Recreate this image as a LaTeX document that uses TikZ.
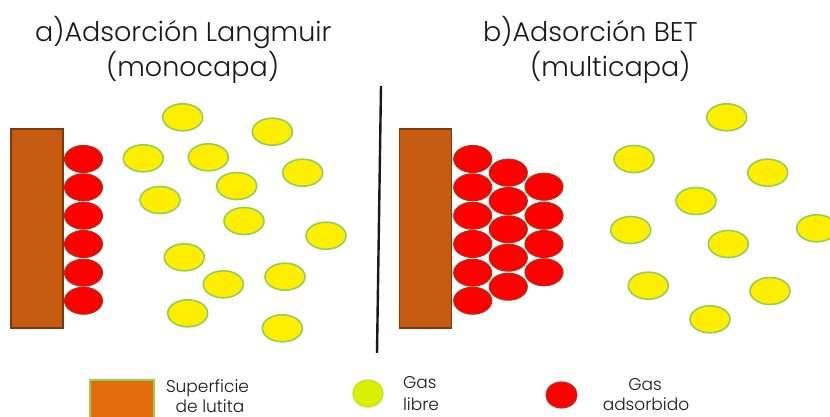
\documentclass[tikz,border=0pt]{standalone}
\usepackage{fontspec}
\setmainfont{Poppins}[UprightFont=* Light]
\usetikzlibrary{positioning,shapes.geometric}

\definecolor{lutita}{HTML}{C55A11}
\definecolor{lutitaborde}{HTML}{7A3A0E}
\definecolor{lutitaley}{HTML}{E46C0A}
\definecolor{verde}{HTML}{92D050}
\definecolor{amarillo}{HTML}{FFEE00}
\definecolor{rojo}{HTML}{FF0000}
\definecolor{rojoborde}{HTML}{B0301A}

\begin{document}
\begin{tikzpicture}[x=1pt,y=-1pt]
    \tikzstyle{every node}=[inner sep=0,outer sep=0]
    \tikzstyle{titulo}=[anchor=base west,font=\fontsize{27}{32}\selectfont,text=black!90]
    \tikzstyle{leyenda}=[font=\fontsize{17}{20}\selectfont,text=black!90]
    \tikzstyle{superficie}=[fill=lutita,draw=lutitaborde,line width=1.2]
    \tikzstyle{libre}=[ellipse,fill=amarillo,draw=verde,line width=1.6,minimum width=40,minimum height=27]
    \tikzstyle{adsorbido}=[ellipse,fill=rojo,draw=rojoborde,line width=1.1,minimum width=38,minimum height=27]
    \clip (0,0) rectangle (830,417);
    \fill[white] (0,0) rectangle (830,417);

    % titulos
    \node[titulo] (ta) at (35,42) {a)Adsorción Langmuir};
    \node[titulo] (tam) at (106,77) {(monocapa)};
    \node[titulo] (tb) at (483,42) {b)Adsorción BET};
    \node[titulo] (tbm) at (530,77) {(multicapa)};

    % separador
    \coordinate (sepa) at (381,86);
    \coordinate (sepb) at (377,353);
    \draw[line width=2.4,black!90] (sepa) -- (sepb);

    % a) monocapa
    \draw[superficie] (11,129) rectangle (63,328);
    \foreach \i/\y in {1/159,2/187.3,3/215.7,4/244,5/272.7,6/300.7}
        \node[adsorbido] (ra\i) at (83.5,\y) {};
    \foreach \i/\x/\y in {1/182.7/117.3,2/272.3/131.7,3/143.3/158.3,4/208.3/157.3,
                          5/302.7/172.7,6/236.7/186,7/160/200,8/244/221,
                          9/326/235.7,10/184.3/257.3,11/285/276.7,12/223.3/284.3,
                          13/187.7/313.3,14/282.3/328.3}
        \node[libre] (la\i) at (\x,\y) {};

    % b) multicapa
    \draw[superficie] (399.5,129) rectangle (451.5,328);
    \foreach \i/\y in {1/159,2/187.3,3/215.7,4/244,5/272.7,6/300.7}
        \node[adsorbido] (rb\i) at (472.7,\y) {};
    \foreach \i/\y in {1/172.7,2/201,3/229.3,4/257.7,5/286.7}
        \node[adsorbido] (rc\i) at (508.3,\y) {};
    \foreach \i/\y in {1/186.7,2/215.7,3/244,4/272.3}
        \node[adsorbido] (rd\i) at (544,\y) {};
    \foreach \i/\x/\y in {1/726.7/117.3,2/634/159,3/767.7/172.7,4/696/201,
                          5/630.7/230,6/816.7/228.3,7/728.3/244,8/648.3/285.7,
                          9/770/291,10/710/319.3}
        \node[libre] (lb\i) at (\x,\y) {};

    % leyenda
    \draw[fill=lutitaley,draw=verde,line width=1.6] (90,380) rectangle (154,425);
    \node[leyenda,anchor=base west] (sup) at (166,392) {Superficie};
    \node[leyenda,anchor=base] (lut) at (210,412) {de lutita};
    \node[ellipse,fill=amarillo!85!green,draw=verde!60!yellow,line width=1.2,
          minimum width=30,minimum height=27] (ley1) at (368,393.5) {};
    \node[leyenda,anchor=base west] (gl) at (403,388) {Gas};
    \node[leyenda,anchor=base west] (lib) at (403,410) {libre};
    \node[ellipse,fill=rojo,draw=rojoborde,line width=1.1,
          minimum width=31,minimum height=26] (ley2) at (561.5,395) {};
    \node[leyenda,anchor=base] (ga) at (645,390) {Gas};
    \node[leyenda,anchor=base] (ads) at (646,410) {adsorbido};
\end{tikzpicture}
\end{document}
